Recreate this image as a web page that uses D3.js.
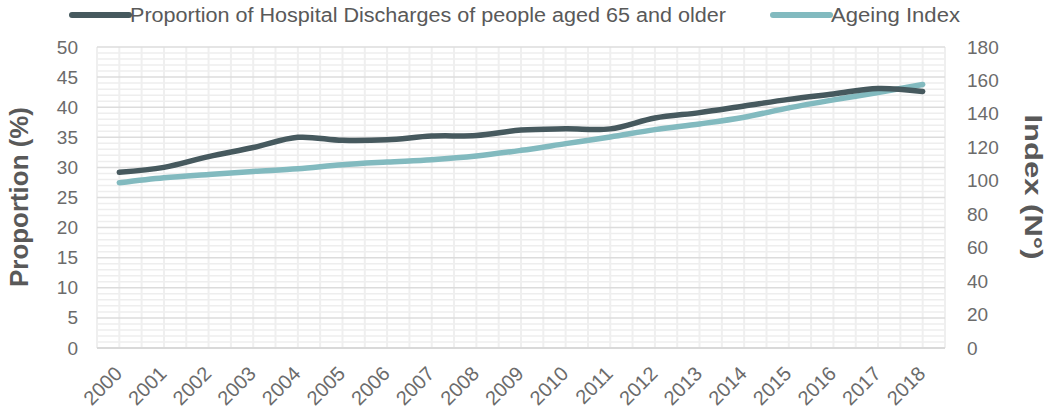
<!DOCTYPE html>
<html>
<head>
<meta charset="utf-8">
<script src="https://cdn.jsdelivr.net/npm/d3@7"></script>
<style>
  html, body { margin: 0; padding: 0; background: #fff; }
  svg { display: block; font-family: "Liberation Sans", Arial, sans-serif; }
</style>
</head>
<body>
<svg id="chart" width="1049" height="412"></svg>
<script>
// Years on the category axis
const years = ["2000","2001","2002","2003","2004","2005","2006","2007","2008","2009",
               "2010","2011","2012","2013","2014","2015","2016","2017","2018"];
// Share of hospital discharges for people aged 65+ (%)
const dischargeShare = [29.2, 30.0, 31.8, 33.3, 35.0, 34.5, 34.6, 35.2, 35.3, 36.2,
                        36.4, 36.4, 38.2, 39.1, 40.2, 41.3, 42.2, 43.1, 42.6];
// Ageing index (N°)
const ageingIndex = [98.8, 101.8, 103.8, 105.6, 107.2, 109.6, 111.2, 112.6, 114.8, 118.2,
                     122.2, 126.2, 130.6, 134.0, 138.0, 143.6, 148.4, 152.8, 157.6];
const leftTicks = [0, 5, 10, 15, 20, 25, 30, 35, 40, 45, 50];
const rightTicks = [0, 20, 40, 60, 80, 100, 120, 140, 160, 180];
const seriesNames = ["Proportion of Hospital Discharges of people aged 65 and older", "Ageing Index"];

const darkColor = "#46595e";
const tealColor = "#82babf";
const labelColor = "#6b6b6b";
const fontStack = '"Liberation Sans", Arial, sans-serif';

const svg = d3.select("#chart");
const plot = { left: 97, right: 945, top: 47, bottom: 348 };

const x = d3.scaleBand().domain(years).range([plot.left, plot.right]).padding(0);
const yLeft = d3.scaleLinear().domain([0, 50]).range([plot.bottom, plot.top]);
const yRight = d3.scaleLinear().domain([0, 180]).range([plot.bottom, plot.top]);
const cx = d => x(d) + x.bandwidth() / 2;

// Grid: minor horizontal lines every 1 unit, major every 5
const grid = svg.append("g");
grid.selectAll("line.minor-h")
  .data(d3.range(0, 51, 1).filter(v => v % 5 !== 0))
  .join("line")
  .attr("x1", plot.left).attr("x2", plot.right)
  .attr("y1", d => yLeft(d)).attr("y2", d => yLeft(d))
  .attr("stroke", "#eeeeee").attr("stroke-width", 1.5);

// Vertical lines at category edges and centres
const half = x.bandwidth() / 2;
grid.selectAll("line.v")
  .data(d3.range(0, years.length * 2 + 1))
  .join("line")
  .attr("x1", i => plot.left + i * half).attr("x2", i => plot.left + i * half)
  .attr("y1", plot.top).attr("y2", plot.bottom)
  .attr("stroke", "#efefef").attr("stroke-width", 2);

grid.selectAll("line.major-h")
  .data(leftTicks.filter(v => v > 0))
  .join("line")
  .attr("x1", plot.left).attr("x2", plot.right)
  .attr("y1", d => yLeft(d)).attr("y2", d => yLeft(d))
  .attr("stroke", "#dcdcdc").attr("stroke-width", 1.5);

// Baseline
svg.append("line")
  .attr("x1", plot.left).attr("x2", plot.right)
  .attr("y1", plot.bottom).attr("y2", plot.bottom)
  .attr("stroke", "#d9d9d9").attr("stroke-width", 2);

// Left axis
const leftAxis = svg.append("g")
  .attr("transform", `translate(${plot.left - 19},0)`)
  .call(d3.axisLeft(yLeft).tickValues(leftTicks).tickSize(0).tickPadding(0));
leftAxis.select(".domain").remove();
leftAxis.selectAll("text")
  .attr("fill", labelColor).style("font-size", "19px").style("font-family", fontStack);

// Right axis
const rightAxis = svg.append("g")
  .attr("transform", `translate(${plot.right + 22},0)`)
  .call(d3.axisRight(yRight).tickValues(rightTicks).tickSize(0).tickPadding(0));
rightAxis.select(".domain").remove();
rightAxis.selectAll("text")
  .attr("fill", labelColor).style("font-size", "19px").style("font-family", fontStack);

// Category axis with slanted year labels
const bottomAxis = svg.append("g")
  .attr("transform", `translate(0,${plot.bottom})`)
  .call(d3.axisBottom(x).tickSize(0).tickPadding(0));
bottomAxis.select(".domain").remove();
bottomAxis.selectAll("text")
  .attr("fill", labelColor).style("font-size", "20px").style("font-family", fontStack)
  .attr("text-anchor", "end")
  .attr("dy", null).attr("y", 0)
  .attr("transform", "translate(-1,22) rotate(-45)")
  .attr("dominant-baseline", "central");

// Axis titles
svg.append("text")
  .attr("transform", "translate(28,197) rotate(-90)")
  .attr("text-anchor", "middle")
  .attr("fill", "#595959").attr("font-weight", "bold")
  .style("font-size", "25px")
  .attr("textLength", 180).attr("lengthAdjust", "spacingAndGlyphs")
  .text("Proportion (%)");

svg.append("text")
  .attr("transform", "translate(1025,187) rotate(90)")
  .attr("text-anchor", "middle")
  .attr("fill", "#595959").attr("font-weight", "bold")
  .style("font-size", "23px")
  .attr("textLength", 145).attr("lengthAdjust", "spacingAndGlyphs")
  .text("Index (N°)");

// Series lines
const lineLeft = d3.line().x((d, i) => cx(years[i])).y(d => yLeft(d)).curve(d3.curveCatmullRom.alpha(0.5));
const lineRight = d3.line().x((d, i) => cx(years[i])).y(d => yRight(d)).curve(d3.curveCatmullRom.alpha(0.5));

svg.append("path")
  .datum(ageingIndex)
  .attr("d", lineRight)
  .attr("fill", "none").attr("stroke", tealColor)
  .attr("stroke-width", 5.5).attr("stroke-linecap", "round").attr("stroke-linejoin", "round");

svg.append("path")
  .datum(dischargeShare)
  .attr("d", lineLeft)
  .attr("fill", "none").attr("stroke", darkColor)
  .attr("stroke-width", 5.5).attr("stroke-linecap", "round").attr("stroke-linejoin", "round");

// Legend
const legendItems = [
  { name: seriesNames[0], color: darkColor, x: 72, len: 596 },
  { name: seriesNames[1], color: tealColor, x: 773, len: 129 }
];
const lg = svg.append("g").selectAll("g").data(legendItems).join("g")
  .attr("transform", d => `translate(${d.x},15)`);
lg.append("line")
  .attr("x1", 0).attr("x2", 57).attr("y1", 0).attr("y2", 0)
  .attr("stroke", d => d.color).attr("stroke-width", 6).attr("stroke-linecap", "round");
lg.append("text")
  .attr("x", 58).attr("y", 7)
  .attr("fill", "#595959").style("font-size", "19.5px")
  .attr("textLength", d => d.len).attr("lengthAdjust", "spacingAndGlyphs")
  .text(d => d.name);
</script>
</body>
</html>
